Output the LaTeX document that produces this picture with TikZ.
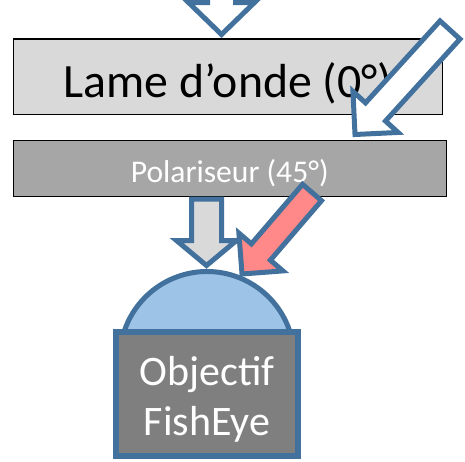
\documentclass[tikz,border=0pt]{standalone}
\usepackage{fontspec}
\setmainfont{Carlito}
\usepackage{tikz}
\usetikzlibrary{positioning,calc}
\definecolor{beam blue}{HTML}{41719C}
\definecolor{plate light}{HTML}{D9D9D9}
\definecolor{plate dark}{HTML}{A6A6A6}
\definecolor{beam red}{HTML}{FF8888}
\definecolor{dome blue}{HTML}{9DC3E6}
\definecolor{body grey}{HTML}{7F7F7F}
\tikzset{
	optical bench/.style={
		x=1pt,y=-1pt,
		light beam/.style={
			draw=beam blue,
			line width=5pt,
			line join=miter
		}
	},
	plate/.style={
		rectangle,
		draw=black,
		line width=1.2pt,
		inner sep=0pt,
		text depth=0pt % baseline placed by text height
	},
	wave plate/.style={
		plate,
		fill=plate light,
		minimum width=428.8pt,
		minimum height=75.4pt,
		font=\fontsize{47.8pt}{57pt}\selectfont,
		text height=40.6pt
	},
	polariser/.style={
		plate,
		fill=plate dark,
		text=white,
		minimum width=432.8pt,
		minimum height=55.5pt,
		font=\fontsize{31.6pt}{38pt}\selectfont,
		text height=27.2pt
	},
	lens body/.style={
		rectangle,
		draw=beam blue,
		fill=body grey,
		line width=5.5pt,
		minimum width=182pt,
		minimum height=124pt
	},
	lens dome/.style={
		draw=beam blue,
		fill=dome blue,
		line width=5pt
	},
	lens text/.style={
		text=white,
		align=center,
		inner sep=0pt,
		font=\fontsize{42pt}{50pt}\selectfont
	}
}
% block arrow from #2 (tail) to #3 (tip)
\newcommand{\lightbeam}[6]{% style, tail, tip, shaft half width, head half width, head length
	\coordinate (#2 neck) at ($(#3)!#6!(#2)$);
	\draw[#1] ($(#2)!#4!90:(#3)$) -- ($(#2 neck)!#4!90:(#3)$) -- ($(#2 neck)!#5!90:(#3)$) -- (#3)
		-- ($(#2 neck)!#5!-90:(#3)$) -- ($(#2 neck)!#4!-90:(#3)$) -- ($(#2)!#4!-90:(#3)$) -- cycle;
}

\begin{document}
\begin{tikzpicture}[optical bench]
	\useasboundingbox (0,0) rectangle (465,461);
	\node[wave plate] (lame) at (228,76.7) {Lame d’onde (0°)};
	\node[polariser] (pol) at (229.7,168.4) {Polariseur (45°)};
	% objective
	\coordinate (dome centre) at (207,358.7);
	\draw[lens dome] ($(dome centre)+(-17.8:87.2)$) arc[start angle=-17.8,end angle=-162.2,radius=87.2] -- cycle;
	\node[lens body] (lens) at (207,394) {};
	\node[lens text] (lens label) at ([yshift=-5pt]lens.center) {Objectif\\FishEye};
	% beams
	\coordinate (top tail) at (221.5,-20);
	\coordinate (top tip) at (221.5,34.5);
	\coordinate (side tail) at (450,30);
	\coordinate (side tip) at (355,134.5);
	\coordinate (grey tail) at (206.5,199);
	\coordinate (grey tip) at (206.5,265.5);
	\coordinate (red tail) at (312,192.5);
	\coordinate (red tip) at (242,274);
	\lightbeam{light beam,fill=white}{top tail}{top tip}{14pt}{33pt}{32pt}
	\lightbeam{light beam,fill=white}{side tail}{side tip}{13.5pt}{30.5pt}{30.5pt}
	\lightbeam{light beam,fill=plate light}{grey tail}{grey tip}{15pt}{30pt}{25pt}
	\lightbeam{light beam,fill=beam red}{red tail}{red tip}{12.5pt}{29pt}{29pt}
\end{tikzpicture}
\end{document}
